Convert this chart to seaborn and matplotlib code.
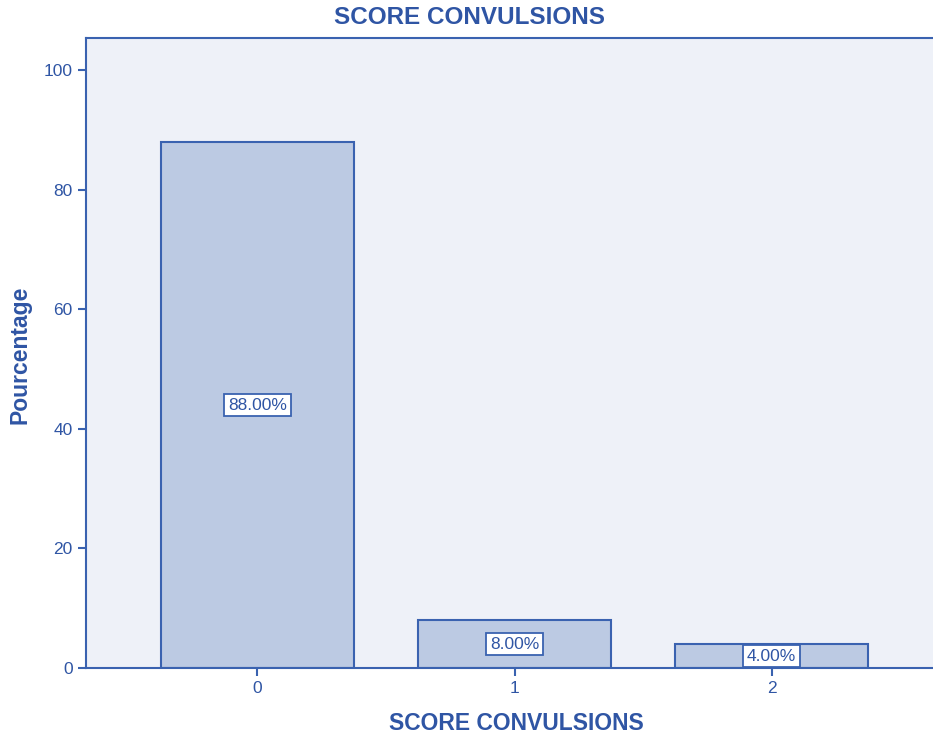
import matplotlib
matplotlib.use("Agg")
import matplotlib.pyplot as plt
import seaborn as sns
import pandas as pd

categories = ["0", "1", "2"]
percentages = [88.0, 8.0, 4.0]
yticks = [0, 20, 40, 60, 80, 100]

BLUE = "#2f55a4"
EDGE = "#3a62b0"
BAR = "#bccae3"
BG = "#eef1f8"

plt.rcParams["font.family"] = ["Liberation Sans", "DejaVu Sans"]

df = pd.DataFrame({"score": categories, "pct": percentages})

fig = plt.figure(figsize=(9.33, 7.38), dpi=100)
ax = fig.add_axes([86/933, 70/738, 1 - 86/933, (668-38)/738])
ax.set_facecolor(BG)

sns.barplot(data=df, x="score", y="pct", order=categories, color=BAR,
            edgecolor=EDGE, linewidth=1.5, width=0.75, saturation=1, ax=ax)

for i, v in enumerate(percentages):
    ax.text(i, v / 2, f"{v:.2f}%", ha="center", va="center", fontsize=12.5,
            color=BLUE,
            bbox=dict(boxstyle="square,pad=0.22", fc="white", ec=EDGE, lw=1.3))

ax.set_xlim(-0.667, 2.628)
ax.set_ylim(0, 105.4)
ax.set_yticks(yticks)
ax.tick_params(axis="both", colors=EDGE, labelcolor=BLUE, labelsize=12.5,
               length=6, width=1.5, direction="out")
for s in ["left", "bottom", "top"]:
    ax.spines[s].set_color(EDGE)
    ax.spines[s].set_linewidth(1.5)
ax.spines["right"].set_visible(False)

ax.set_xlabel("")
ax.set_ylabel("")
fig.text(516/933, 1 - 724/738, "SCORE CONVULSIONS", ha="center", va="center",
         fontsize=16.5, fontweight="bold", color=BLUE)
fig.text(20/933, 1 - 355/738, "Pourcentage", ha="center", va="center",
         rotation=90, fontsize=16.5, fontweight="bold", color=BLUE)
fig.text(469/933, 1 - 18/738, "SCORE CONVULSIONS", ha="center", va="center",
         fontsize=17.5, fontweight="bold", color=BLUE)

fig.savefig("out.png", dpi=100)
